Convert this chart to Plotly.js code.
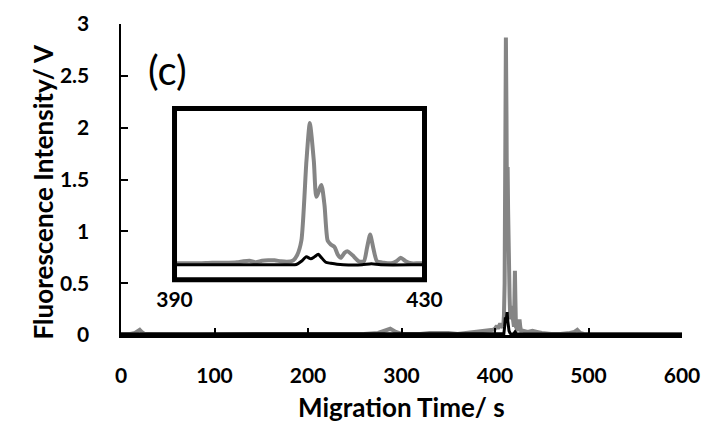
<!DOCTYPE html>
<html>
<head>
<meta charset="utf-8">
<script src="https://cdn.plot.ly/plotly-3.0.1.min.js"></script>
<style>html,body{margin:0;padding:0;background:#fff}#chart{width:708px;height:426px}</style>
</head>
<body>
<div id="chart"></div>
<script>
// Gray trace (migration time in s, fluorescence in V)
const timeGray = [0, 5, 10, 15, 18, 20, 22, 25, 30, 50, 80, 100, 130, 160, 200, 230, 260, 275, 282, 288, 294, 300, 320, 330, 340, 350, 360, 370, 380, 385, 390, 392, 394, 396, 398, 400, 401, 402, 403, 404, 405, 406, 407, 408, 409, 409.6, 410.3, 411.1, 411.65, 412.3, 412.7, 413.5, 414, 414.5, 415, 415.6, 416.1, 416.6, 417.2, 417.7, 418.5, 419.5, 420.3, 420.8, 421.3, 421.8, 422.4, 423.5, 424.7, 425.5, 426.2, 427, 427.9, 429, 430, 435, 440, 445, 450, 460, 470, 480, 485, 488, 491, 495, 500, 520, 550, 580, 600];
const valueGray = [0.01, 0.01, 0.01, 0.02, 0.04, 0.05, 0.03, 0.01, 0.01, 0.005, 0.005, 0.005, 0.005, 0.005, 0.005, 0.005, 0.01, 0.02, 0.04, 0.06, 0.03, 0.01, 0.01, 0.02, 0.02, 0.02, 0.01, 0.02, 0.03, 0.04, 0.04, 0.04, 0.04, 0.05, 0.05, 0.06, 0.08, 0.09, 0.06, 0.09, 0.1, 0.1, 0.08, 0.07, 0.1, 0.2, 0.5, 2.09, 2.87, 2.09, 1.38, 1.62, 1.21, 0.5, 0.42, 0.37, 0.22, 0.15, 0.25, 0.28, 0.2, 0.08, 0.08, 0.35, 0.62, 0.35, 0.08, 0.05, 0.04, 0.08, 0.15, 0.08, 0.04, 0.04, 0.04, 0.03, 0.04, 0.03, 0.02, 0.01, 0.01, 0.02, 0.03, 0.05, 0.02, 0.01, 0.01, 0.005, 0.005, 0.005, 0.005];
// Black trace
const timeBlack = [0, 100, 200, 300, 380, 395, 405, 408, 409.5, 410.3, 411.1, 411.8, 412.4, 413, 413.6, 414.2, 415, 416, 417, 420, 421.5, 423, 430, 450, 500, 600];
const valueBlack = [0.01, 0.01, 0.01, 0.01, 0.01, 0.01, 0.01, 0.01, 0.015, 0.08, 0.17, 0.13, 0.17, 0.22, 0.14, 0.06, 0.04, 0.02, 0.01, 0.01, 0.03, 0.01, 0.01, 0.01, 0.01, 0.01];

const xTicks = [0, 100, 200, 300, 400, 500, 600];
const yTicks = [0, 0.5, 1, 1.5, 2, 2.5, 3];
const insetTicks = [390, 430];

const GRAY = '#858585';
const FONT = 'Lato, "Open Sans", sans-serif';
const tickFont = {family: FONT, size: 21, weight: 700, color: '#000'};
const titleFont = {family: FONT, size: 26, weight: 700, color: '#000'};

const traces = [
  {x: timeGray, y: valueGray, xaxis: 'x', yaxis: 'y', mode: 'lines', line: {color: GRAY, width: 4}, showlegend: false, hoverinfo: 'skip'},
  {x: timeBlack, y: valueBlack, xaxis: 'x', yaxis: 'y', mode: 'lines', line: {color: '#000', width: 3}, showlegend: false, hoverinfo: 'skip'},
  {x: timeGray, y: valueGray, xaxis: 'x2', yaxis: 'y2', mode: 'lines', line: {color: GRAY, width: 4, shape: 'spline', smoothing: 0.6}, showlegend: false, hoverinfo: 'skip'},
  {x: timeBlack, y: valueBlack, xaxis: 'x2', yaxis: 'y2', mode: 'lines', line: {color: '#000', width: 3, shape: 'spline', smoothing: 0.6}, showlegend: false, hoverinfo: 'skip'}
];

const layout = {
  width: 708, height: 426,
  margin: {l: 121, r: 26, t: 24, b: 91},
  paper_bgcolor: '#fff', plot_bgcolor: '#fff',
  showlegend: false,
  xaxis: {
    range: [0, 600], tickvals: xTicks, ticks: 'inside', ticklen: 7, tickwidth: 2, tickcolor: '#000',
    showline: true, linewidth: 3, linecolor: '#000', showgrid: false, zeroline: false,
    tickfont: tickFont, ticklabelstandoff: 20, fixedrange: true
  },
  yaxis: {
    range: [0, 3], tickvals: yTicks, ticks: 'inside', ticklen: 7, tickwidth: 2, tickcolor: '#000',
    showline: true, linewidth: 2.5, linecolor: '#000', showgrid: false, zeroline: false,
    tickfont: tickFont, ticklabelstandoff: 25, fixedrange: true
  },
  xaxis2: {
    domain: [0.0954, 0.541], anchor: 'y2', range: [390, 430], tickvals: insetTicks, ticks: '',
    showline: false, showgrid: false, zeroline: false, tickfont: tickFont, ticklabelstandoff: 5
  },
  yaxis2: {
    domain: [0.178, 0.728], anchor: 'x2', range: [-0.29, 3.16], showticklabels: false,
    showline: false, showgrid: false, zeroline: false
  },
  shapes: [
    {type: 'rect', xref: 'x2 domain', yref: 'y2 domain', x0: 0, x1: 1, y0: 0, y1: 1,
     line: {color: '#000', width: 5}, fillcolor: 'rgba(0,0,0,0)', layer: 'above'}
  ],
  annotations: [
    {text: 'Migration Time/ s', xref: 'paper', yref: 'paper', x: 0.5, y: -0.23, xanchor: 'center', yanchor: 'middle',
     showarrow: false, font: titleFont},
    {text: 'Fluorescence Intensity/ V', xref: 'paper', yref: 'paper', x: -0.14, y: 0.46, xanchor: 'center', yanchor: 'middle',
     textangle: -90, showarrow: false, font: titleFont},
    {text: '(c)', xref: 'paper', yref: 'paper', x: 0.082, y: 0.852, xanchor: 'center', yanchor: 'middle',
     showarrow: false, font: {family: FONT, size: 40, color: '#000'}}
  ]
};

Plotly.newPlot('chart', traces, layout, {staticPlot: true, displayModeBar: false});
</script>
</body>
</html>
